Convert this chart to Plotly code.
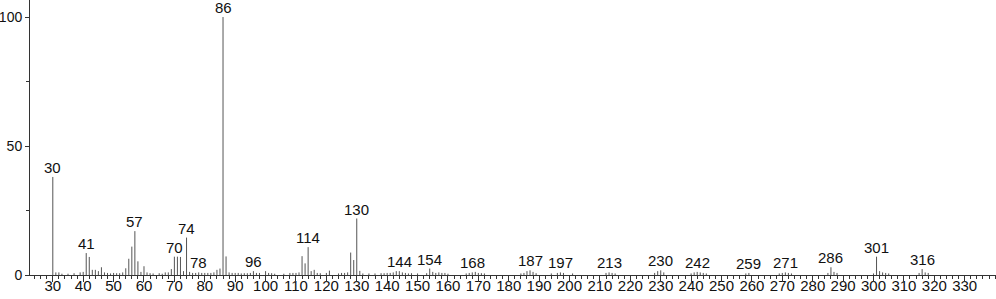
import plotly.graph_objects as go

mz = [31, 32, 33, 35, 37, 39, 40, 41, 42, 43, 44, 45, 46, 47, 48, 49, 50, 51, 52, 53, 54, 55, 56, 57, 58, 59, 60,
      61, 62, 63, 65, 66, 67, 68, 69, 70, 71, 72, 73, 74, 75, 76, 77, 78, 79, 80, 81, 82, 83, 84, 85, 86, 87, 88,
      89, 90, 91, 92, 93, 94, 95, 96, 97, 98, 100, 101, 102, 103, 106, 108, 109, 110, 111, 112, 113, 114, 115,
      116, 117, 118, 120, 121, 124, 125, 126, 127, 128, 129, 130, 131, 132, 134, 136, 138, 139, 140, 141, 142,
      143, 144, 145, 146, 147, 148, 150, 153, 154, 155, 156, 157, 158, 159, 160, 166, 167, 168, 169, 170, 171,
      172, 184, 185, 186, 187, 188, 189, 194, 196, 197, 198, 201, 212, 213, 214, 215, 228, 229, 230, 231, 240,
      241, 242, 243, 244, 245, 258, 259, 269, 270, 271, 272, 273, 285, 286, 287, 288, 300, 301, 302, 303, 304,
      305, 315, 316, 317, 318]
mz = [30] + mz
intensity = [38.0, 1.0, 1.0, 0.5, 0.5, 0.7, 1.0, 1.2, 8.5, 7.0, 2.0, 2.0, 1.5, 3.0, 1.0, 0.8, 0.6, 0.8, 0.7, 0.7,
             1.0, 2.6, 6.3, 11.0, 17.0, 5.3, 1.2, 3.4, 1.0, 0.7, 0.6, 0.7, 0.5, 1.0, 1.0, 2.3, 7.1, 7.1, 7.0, 1.5,
             14.5, 1.2, 0.8, 0.8, 1.0, 0.8, 0.8, 0.8, 0.8, 1.0, 2.0, 2.5, 100.0, 7.2, 1.0, 0.8, 0.8, 0.8, 0.6, 0.7,
             0.7, 0.8, 1.5, 0.8, 0.8, 1.5, 0.8, 0.7, 0.5, 0.5, 0.8, 0.8, 0.8, 1.0, 7.3, 4.5, 10.8, 1.5, 2.0, 0.8,
             0.7, 0.8, 1.7, 0.6, 0.8, 0.8, 1.0, 8.7, 5.8, 21.9, 1.6, 0.6, 0.6, 0.6, 0.7, 0.7, 0.8, 0.8, 1.0, 1.5,
             1.5, 1.0, 0.8, 0.6, 0.7, 0.6, 0.7, 2.5, 1.2, 0.8, 1.0, 0.8, 0.8, 0.5, 0.6, 0.8, 1.0, 1.2, 0.8, 0.7,
             0.6, 0.6, 0.8, 1.5, 1.8, 1.2, 0.7, 0.6, 0.8, 1.0, 0.8, 0.6, 0.8, 1.0, 0.8, 0.6, 0.8, 1.5, 1.8, 1.0,
             0.6, 1.0, 1.2, 1.0, 0.8, 0.6, 0.6, 0.8, 0.6, 0.8, 1.0, 0.8, 0.6, 0.8, 3.0, 1.2, 0.8, 0.6, 7.1, 1.5,
             1.0, 0.8, 0.6, 0.8, 2.3, 1.0, 0.8]

labeled = [30, 41, 57, 70, 74, 78, 86, 96, 114, 130, 144, 154, 168, 187, 197, 213, 230, 242, 259, 271, 286, 301, 316]

x_ticks = list(range(30, 331, 10))
y_ticks = [0, 50, 100]

xs, ys = [], []
for m, v in zip(mz, intensity):
    xs += [m, m, None]
    ys += [0, v, None]

fig = go.Figure()
fig.add_trace(go.Scatter(x=xs, y=ys, mode="lines", line=dict(color="#555555", width=1),
                         hoverinfo="skip", showlegend=False))
# helper trace so the tick-only overlay axis is drawn
fig.add_trace(go.Scatter(x=[x_ticks[0]], y=[0], xaxis="x2", mode="markers",
                         marker=dict(opacity=0), hoverinfo="skip", showlegend=False))

lookup = dict(zip(mz, intensity))
for m in labeled:
    fig.add_annotation(x=m, y=lookup[m], text=str(m), showarrow=False, yanchor="bottom",
                       xanchor="center", yshift=-1, font=dict(size=15, color="#111"))

fig.update_layout(
    template="none",
    width=996, height=299,
    margin=dict(l=30, r=0, t=0, b=24, pad=0),
    paper_bgcolor="white", plot_bgcolor="white",
    font=dict(family="Liberation Sans, Arial, sans-serif", size=15, color="#111"),
    xaxis=dict(range=[22.5, 340.3], tickvals=x_ticks, ticktext=[str(t) for t in x_ticks],
               automargin=False,
               showgrid=False, zeroline=False, showline=True, linecolor="#333", linewidth=1,
               ticks="outside", ticklen=0, tickcolor="#333", tickwidth=1, ticklabelstandoff=-3,
               minor=dict(dtick=2, tick0=0, ticks="outside", ticklen=3, tickcolor="#333", showgrid=False),
               tickfont=dict(size=15)),
    xaxis2=dict(range=[22.5, 340.3], overlaying="x", matches="x", anchor="y", side="bottom",
                tickvals=x_ticks, showticklabels=False, automargin=False,
                showgrid=False, zeroline=False, showline=False,
                ticks="outside", ticklen=6, tickcolor="#333", tickwidth=1),
    yaxis=dict(range=[0, 106.6], tickvals=y_ticks, ticktext=[str(t) for t in y_ticks],
               automargin=False,
               showgrid=False, zeroline=False, showline=True, linecolor="#333", linewidth=1,
               ticks="outside", ticklen=4, tickcolor="#333", tickwidth=1,
               minor=dict(dtick=25, tick0=0, ticks="outside", ticklen=3, tickcolor="#333", showgrid=False),
               tickfont=dict(size=14)),
)

fig.write_html("out.html")
